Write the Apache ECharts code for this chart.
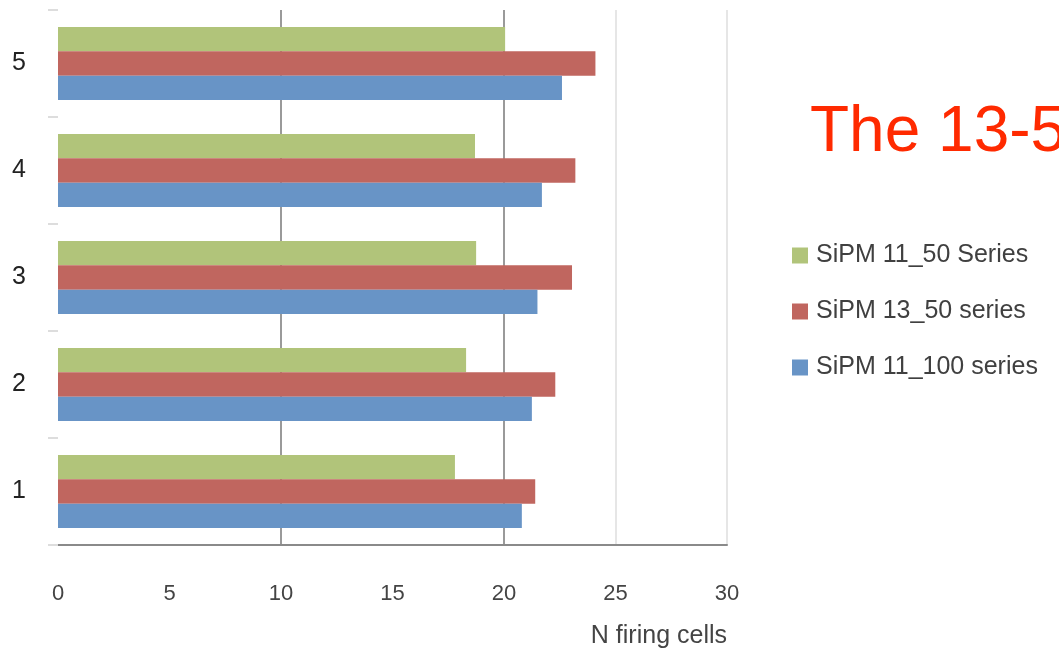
<!DOCTYPE html>
<html>
<head>
<meta charset="utf-8">
<script src="https://cdn.jsdelivr.net/npm/echarts@6/dist/echarts.min.js"></script>
<style>
  html, body { margin: 0; padding: 0; background: #ffffff; }
  #chart { width: 1059px; height: 655px; }
</style>
</head>
<body>
<div id="chart"></div>
<script>
// Run index, bottom to top
const categories = ['1', '2', '3', '4', '5'];

// Number of firing cells per run for each SiPM series
const sipm11_50  = [17.8, 18.3, 18.75, 18.7, 20.05];
const sipm13_50  = [21.4, 22.3, 23.05, 23.2, 24.1];
const sipm11_100 = [20.8, 21.25, 21.5, 21.7, 22.6];

const seriesNames = ['SiPM 11_50 Series', 'SiPM 13_50 series', 'SiPM 11_100 series'];
const xTicks = [0, 5, 10, 15, 20, 25, 30];

const chart = echarts.init(document.getElementById('chart'));

const labelFont = "'Liberation Sans Narrow', 'Liberation Sans', sans-serif";

chart.setOption({
  animation: false,
  backgroundColor: '#ffffff',
  grid: { left: 58, right: 332, top: 10, bottom: 110, containLabel: false },
  legend: {
    orient: 'vertical',
    left: 792,
    top: 243,
    padding: 0,
    icon: 'rect',
    itemWidth: 16,
    itemHeight: 16,
    itemGap: 31,
    data: seriesNames,
    textStyle: { fontFamily: labelFont, fontSize: 25, color: '#404040', padding: [0, 0, 0, 3] }
  },
  xAxis: {
    type: 'value',
    min: xTicks[0],
    max: xTicks[xTicks.length - 1],
    interval: 5,
    axisLine: { show: true, lineStyle: { color: '#8a8a8a', width: 2 } },
    axisTick: { show: false },
    axisLabel: {
      margin: 38,
      fontFamily: labelFont,
      fontSize: 22,
      color: '#444444'
    },
    splitLine: {
      show: true,
      lineStyle: {
        width: 2,
        color: ['rgba(0,0,0,0)', 'rgba(0,0,0,0)', '#9a9a9a', 'rgba(0,0,0,0)', '#9a9a9a', '#e6e6e6', '#e6e6e6']
      }
    }
  },
  yAxis: {
    type: 'category',
    data: categories,
    axisLine: { show: false },
    axisTick: { show: true, length: 10, lineStyle: { color: '#dddddd', width: 2 } },
    axisLabel: {
      margin: 32,
      fontFamily: labelFont,
      fontSize: 25,
      color: '#222222'
    },
    splitLine: { show: false }
  },
  // Series listed top-to-bottom within each group
  series: [
    {
      name: seriesNames[0],
      type: 'bar',
      data: sipm11_50,
      barGap: '0%',
      barCategoryGap: '32%',
      itemStyle: { color: '#b1c47a' }
    },
    {
      name: seriesNames[1],
      type: 'bar',
      data: sipm13_50,
      barGap: '0%',
      barCategoryGap: '32%',
      itemStyle: { color: '#c0665f' }
    },
    {
      name: seriesNames[2],
      type: 'bar',
      data: sipm11_100,
      barGap: '0%',
      barCategoryGap: '32%',
      itemStyle: { color: '#6894c6' }
    }
  ],
  graphic: [
    {
      type: 'text',
      right: 332,
      top: 624,
      style: {
        text: 'N firing cells',
        font: "25px " + labelFont,
        fill: '#444444'
      }
    },
    {
      type: 'text',
      left: 810,
      top: 101,
      style: {
        text: 'The 13-50',
        font: "64px 'Comic Sans MS', 'Liberation Sans', sans-serif",
        fill: '#ff2a00'
      }
    }
  ]
});
</script>
</body>
</html>
